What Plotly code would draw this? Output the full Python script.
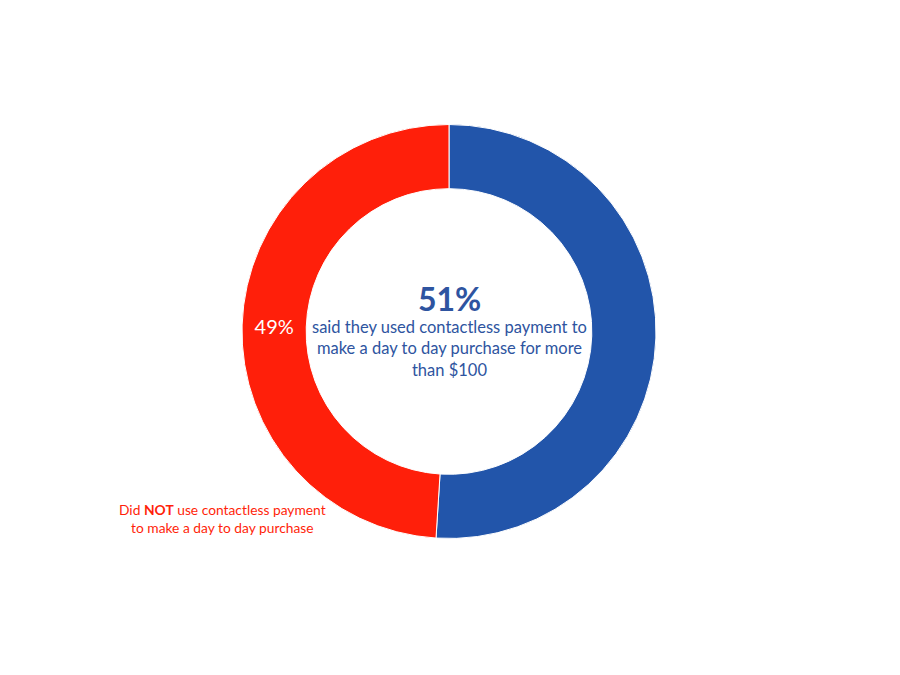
import plotly.graph_objects as go

labels = ["Used contactless payment", "Did NOT use contactless payment"]
values = [51, 49]
colors = ["#2255AA", "#FF1F0A"]
slice_text = ["", "49%"]

W, H = 900, 675
def px(x): return x / W
def py(y): return 1 - y / H

fig = go.Figure(go.Pie(
    labels=labels, values=values, sort=False, direction="clockwise", rotation=0,
    hole=0.69, marker=dict(colors=colors, line=dict(color="white", width=1)),
    text=slice_text, texttemplate="%{text}", textinfo="text",
    textposition="inside", insidetextorientation="horizontal",
    textfont=dict(color="white", size=20, family="Lato"),
    domain=dict(x=[px(242), px(656)], y=[py(539), py(124)]),
    showlegend=False, hoverinfo="label+percent",
))

blue = "#2E54A0"
fig.add_annotation(x=px(449), y=py(298), xref="paper", yref="paper", text="<b>51%</b>",
                   xanchor="center", yanchor="middle",
                   showarrow=False, font=dict(size=32, color=blue, family="Lato"))
fig.add_annotation(x=px(449), y=py(348), xref="paper", yref="paper",
                   text="said they used contactless payment to<br>make a day to day purchase for more<br>than $100",
                   xanchor="center", yanchor="middle",
                   showarrow=False, font=dict(size=16.5, color=blue, family="Lato"))
fig.add_annotation(x=px(222), y=py(518), xref="paper", yref="paper",
                   text="Did <b>NOT</b> use contactless payment<br>to make a day to day purchase",
                   xanchor="center", yanchor="middle",
                   showarrow=False, font=dict(size=13.8, color="#FF1F0A", family="Lato"))

fig.update_layout(width=W, height=H, margin=dict(l=0, r=0, t=0, b=0),
                  paper_bgcolor="white", plot_bgcolor="white")
fig.write_html("out.html", config={"displayModeBar": False},
               post_script="document.body.style.margin='0';")
